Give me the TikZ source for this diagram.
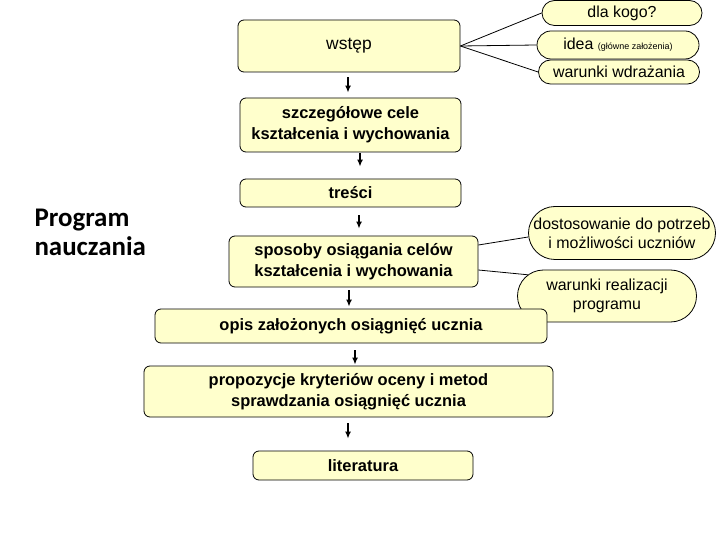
\documentclass[tikz,border=0pt]{standalone}
\usepackage{fontspec}
\setmainfont{Liberation Sans}
\newfontfamily\progfont{Carlito}
\usetikzlibrary{arrows.meta,shapes.misc}
\definecolor{boxYellow}{HTML}{FFFFCC}
\tikzset{%
  >={Latex[width=6bp,length=7bp]},
  % Specifications for style of nodes:
     base/.style = {rectangle, rounded corners=6bp, draw=black, fill=boxYellow,
                    line width=0.8bp, align=center, inner sep=2bp},
    mainBox/.style = {base, font=\bfseries\fontsize{16.5}{21}\selectfont},
    bubble/.style = {rounded rectangle, draw=black, fill=boxYellow, line width=0.8bp,
                     align=center, inner sep=0pt, font=\fontsize{16}{19}\selectfont},
    flow/.style = {->, line width=1.6bp},
    link/.style = {line width=0.8bp},
}
\begin{document}
\begin{tikzpicture}[x=1bp, y=-1bp]
  \useasboundingbox (0,0) rectangle (720,540);

  % Title on the left
  \node (title) [anchor=west, align=left, font=\progfont\bfseries\fontsize{27}{29}\selectfont]
        at (31,232) {Program\\nauczania};

  % Bubbles on the right
  \node (dlaKogo)  [bubble, minimum width=160bp, minimum height=25bp] at (622,13) {dla kogo?};
  \node (idea)     [bubble, minimum width=162bp, minimum height=28bp] at (618,45)
                   {idea {\fontsize{9}{10}\selectfont(główne założenia)}};
  \node (wdrazanie) [bubble, minimum width=161bp, minimum height=24bp] at (619,72) {warunki wdrażania};
  \node (dostosowanie) [bubble, minimum width=181bp, minimum height=53bp] at (622,233)
                   {dostosowanie do potrzeb\\i możliwości uczniów};
  \node (realizacja) [bubble, minimum width=179bp, minimum height=52bp] at (607,296)
                   {warunki realizacji\\programu};

  % Main column of boxes
  \node (wstep)      [mainBox, minimum width=222bp, minimum height=52bp] at (349,46)
                     {\mdseries\fontsize{17.5}{21}\selectfont wstęp};
  \node (cele)       [mainBox, minimum width=221bp, minimum height=54bp] at (350.5,125)
                     {szczegółowe cele\\kształcenia i wychowania};
  \node (tresci)     [mainBox, minimum width=221bp, minimum height=28bp] at (350.5,193) {treści};
  \node (sposoby)    [mainBox, minimum width=249bp, minimum height=51bp] at (353.5,261.5)
                     {sposoby osiągania celów\\kształcenia i wychowania};
  \node (opis)       [mainBox, minimum width=392bp, minimum height=34bp] at (351,326)
                     {opis założonych osiągnięć ucznia};
  \node (propozycje) [mainBox, minimum width=409bp, minimum height=51bp] at (348.5,391.5)
                     {propozycje kryteriów oceny i metod\\sprawdzania osiągnięć ucznia};
  \node (literatura) [mainBox, minimum width=220bp, minimum height=29bp] at (363,465.5) {literatura};

  % Arrows between boxes
  \draw[flow, shorten <=5bp, shorten >=5bp]
       ([xshift=-1bp]wstep.south) -- ([xshift=-1bp]wstep.south |- cele.north);
  \draw[flow, shorten <=1bp, shorten >=12bp]
       ([xshift=9.5bp]cele.south) -- ([xshift=9.5bp]cele.south |- tresci.north);
  \draw[flow, shorten <=8bp, shorten >=7bp]
       ([xshift=8.5bp]tresci.south) -- ([xshift=8.5bp]tresci.south |- sposoby.north);
  \draw[flow, shorten <=3bp, shorten >=2bp]
       ([xshift=-4.5bp]sposoby.south) -- ([xshift=-4.5bp]sposoby.south |- opis.north);
  \draw[flow, shorten <=7bp, shorten >=1bp]
       ([xshift=4bp]opis.south) -- ([xshift=4bp]opis.south |- propozycje.north);
  \draw[flow, shorten <=6bp, shorten >=12bp]
       ([xshift=-0.5bp]propozycje.south) -- ([xshift=-0.5bp]propozycje.south |- literatura.north);

  % Lines to the bubbles
  \draw[link] (wstep.east) -- (dlaKogo.west);
  \draw[link] (wstep.east) -- (idea.west);
  \draw[link] (wstep.east) -- (wdrazanie.west);
  \draw[link] ([yshift=16.5bp]sposoby.east) -- ([yshift=-4bp]dostosowanie.west);
  \draw[link] ([yshift=-8.5bp]sposoby.east) -- (realizacja.165);
\end{tikzpicture}
\end{document}
